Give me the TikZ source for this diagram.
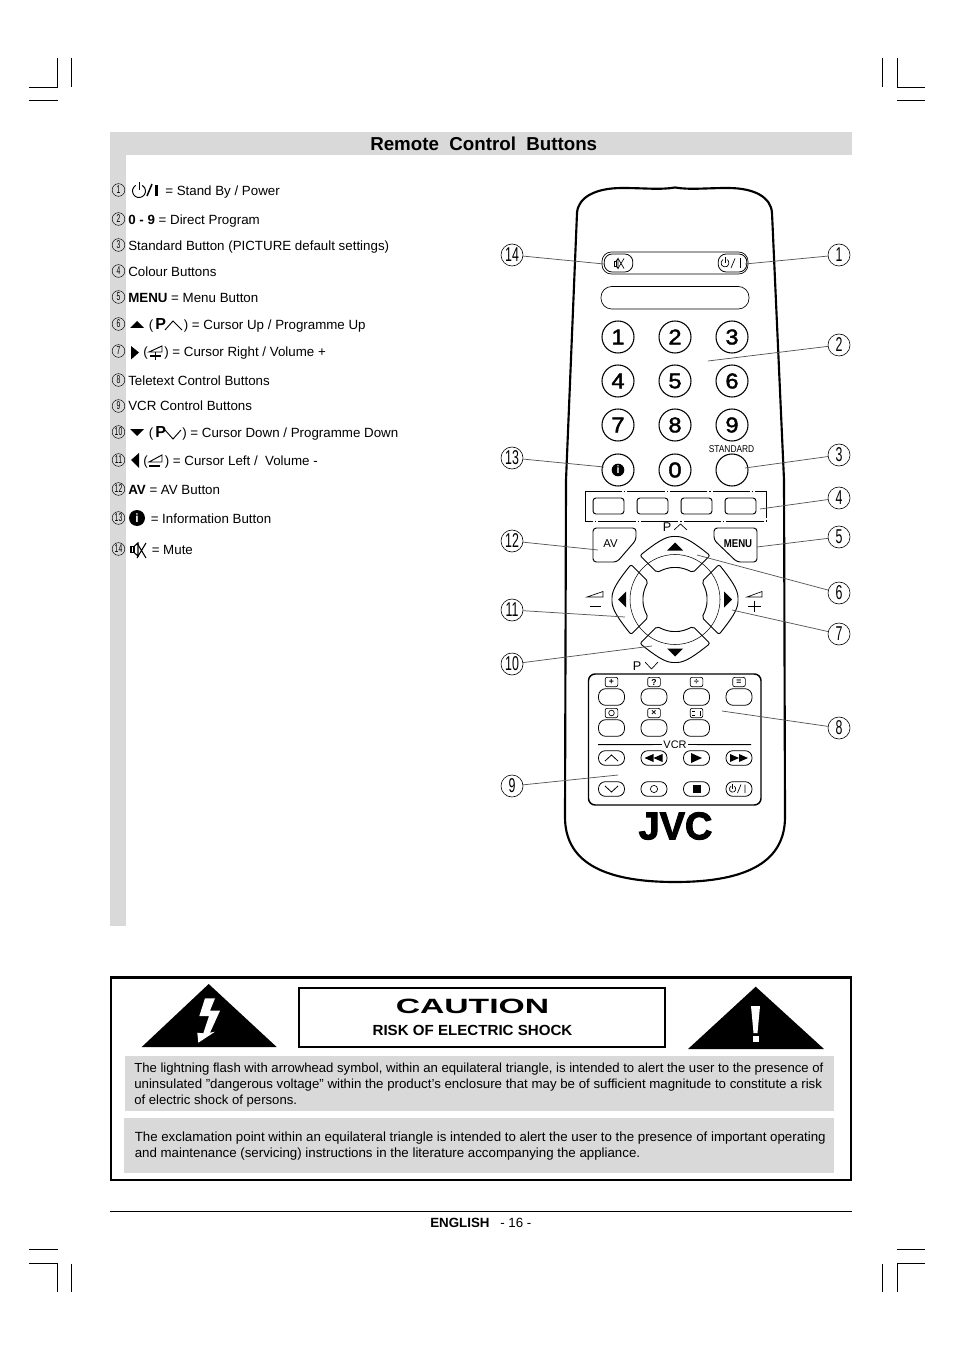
\documentclass[tikz,border=0pt]{standalone}
\usepackage{fontspec}
\usepackage{graphicx}
\setmainfont{Liberation Sans}
\newfontfamily\logofont[FakeBold=2.5]{Liberation Sans Bold}
\newfontfamily\keyfont[FakeBold=2]{Liberation Sans}
\definecolor{bandgray}{HTML}{D9D9D9}
\definecolor{leadgray}{HTML}{555555}

\begin{document}
\begin{tikzpicture}[x=0.75pt,y=-0.75pt]
	\tikzset{
		txt/.style={anchor=base west, inner sep=0, font=\fontsize{10}{12}\selectfont},
		warn/.style={anchor=north west, inner sep=0, align=left, font=\fontsize{9.85}{12}\selectfont},
		crop/.style={line width=0.75pt},
		callout/.style={draw, circle, minimum size=16.5pt, inner sep=0, line width=0.45pt, font=\fontsize{15}{15}\selectfont},
		mini/.style={draw, circle, minimum size=9.5pt, inner sep=0, line width=0.35pt, font=\fontsize{8.5}{8.5}\selectfont},
		leader/.style={draw=leadgray, line width=0.55pt},
		numkey/.style={draw, circle, minimum size=24pt, inner sep=0, line width=0.8pt, font=\fontsize{16}{16}\keyfont\selectfont},
		colkey/.style={draw, rounded corners=2.2pt, minimum width=23.2pt, minimum height=12pt, inner sep=0, line width=0.7pt},
		ttxkey/.style={draw, rounded corners=5.5pt, minimum width=19.5pt, minimum height=12.5pt, inner sep=0, line width=0.6pt},
		vcrkey/.style={draw, rounded corners=5.2pt, minimum width=19.5pt, minimum height=11pt, inner sep=0, line width=0.6pt},
		tag/.style={draw, rounded corners=1.5pt, minimum width=9.5pt, minimum height=7pt, inner sep=0, line width=0.5pt, font=\fontsize{6.5}{6.5}\bfseries\selectfont}
	}
	\useasboundingbox (0,0) rectangle (954,1351);

	% crop marks
	\foreach \x/\xa/\xb in {57.5/29/57.5,897/897/925} {
		\draw[crop] (\x,58) -- (\x,87.5);
		\draw[crop] (\xa,87.5) -- (\xb,87.5);
		\draw[crop] (\xa,101) -- (\xb,101);
		\draw[crop] (\x,1263.5) -- (\x,1292);
		\draw[crop] (\xa,1263.5) -- (\xb,1263.5);
		\draw[crop] (\xa,1249.5) -- (\xb,1249.5);
	}
	\foreach \x in {71.7,882.5} {
		\draw[crop] (\x,58) -- (\x,87);
		\draw[crop] (\x,1263.5) -- (\x,1292);
	}

	% grey bands and title
	\fill[bandgray] (110,132) rectangle (852,155);
	\fill[bandgray] (110,155) rectangle (126,926);
	\node[anchor=base west, inner sep=0, font=\fontsize{14.05}{16}\bfseries\selectfont] (title) at (370,151) {Remote\ \ Control\ \ Buttons};

	% list numbers
	\foreach \n/\y in {1/190,2/219,3/245,4/271,5/297,6/324,7/351,8/380,9/406,10/432,11/460,12/489,13/518,14/549}
		\node[mini] (m\n) at (118.5,\y) {\scalebox{.6}[1]{\n}};

	% list texts
	\node[txt] (t1) at (165,196) {= Stand By / Power};
	\node[txt] (t2) at (128,225) {\textbf{0 - 9} = Direct Program};
	\node[txt] (t3) at (128,251) {Standard Button (PICTURE default settings)};
	\node[txt] (t4) at (128,277) {Colour Buttons};
	\node[txt] (t5) at (128,303) {\textbf{MENU} = Menu Button};
	\node[txt] (t6a) at (148.5,330) {(\,\textbf{\large P}};
	\node[txt] (t6b) at (183.5,330) {) = Cursor Up / Programme Up};
	\node[txt] (t7a) at (143,357) {(};
	\node[txt] (t7b) at (164,357) {) = Cursor Right / Volume +};
	\node[txt] (t8) at (128,386) {Teletext Control Buttons};
	\node[txt] (t9) at (128,411) {VCR Control Buttons};
	\node[txt] (t10a) at (148.5,437) {(\,\textbf{\large P}};
	\node[txt] (t10b) at (182,437) {) = Cursor Down / Programme Down};
	\node[txt] (t11a) at (143,465) {(};
	\node[txt] (t11b) at (164.5,465) {) = Cursor Left /\ \ Volume -};
	\node[txt] (t12) at (128,494) {\textbf{AV} = AV Button};
	\node[txt] (t13) at (150.5,523) {= Information Button};
	\node[txt] (t14) at (151.5,554) {= Mute};

	% list symbols
	\draw[line width=0.7pt] (135.75,185.4) arc (240:-60:6.5);
	\draw[line width=0.7pt] (139,182.5) -- (139,190);
	\draw[line width=1.1pt] (147,196) -- (152,184);
	\draw[line width=1.9pt] (156.5,185) -- (156.5,196);
	\fill (130,328) -- (137,321) -- (144,328) -- cycle;
	\draw[line width=0.7pt] (165,330) -- (173,321) -- (182,330);
	\fill (131,346) -- (139,352.5) -- (131,359.5) -- cycle;
	\draw[line width=0.7pt] (149,352) -- (162,346) -- (162,352) -- cycle;
	\draw[line width=1pt] (150,356) -- (161,356) (155.5,352.5) -- (155.5,360);
	\fill (130,429) -- (144,429) -- (137,436) -- cycle;
	\draw[line width=0.7pt] (165,430) -- (173,439) -- (181,430);
	\fill (139,453) -- (131,460) -- (139,468) -- cycle;
	\draw[line width=0.7pt] (149,462) -- (162,455) -- (162,462) -- cycle;
	\draw[line width=1pt] (149,466) -- (160,466);
	\node[fill=black, circle, minimum size=12pt, inner sep=0, text=white, font=\fontsize{9}{9}\bfseries\selectfont] (info) at (137,518) {i};
	\draw[line width=0.8pt] (131,546.5) rectangle (134,552.5);
	\draw[line width=0.8pt] (134,546.5) -- (138,543) -- (138,556) -- (134,552.5);
	\draw[line width=0.8pt] (137,543) -- (146,558) (146,543) -- (137,558);

	% remote body
	\draw[line width=1.6pt] (566,480) -- (577,213)
		.. controls (578,197) and (596,188) .. (622,188)
		.. controls (645,188) and (660,190) .. (675,187.5)
		.. controls (690,190) and (705,188) .. (728,188)
		.. controls (754,188) and (771,197) .. (772,213)
		-- (784,480) -- (785,817)
		.. controls (785,860) and (750,882) .. (675,882)
		.. controls (600,882) and (565,860) .. (565,817) -- cycle;

	% top panel
	\draw[rounded corners=7pt, line width=0.5pt] (602,252) rectangle (748,274);
	\node[draw, rounded corners=6pt, minimum width=21.5pt, minimum height=13.5pt, inner sep=0, line width=0.6pt] (mute) at (618.5,263) {};
	\node[draw, rounded corners=6pt, minimum width=21.5pt, minimum height=13.5pt, inner sep=0, line width=0.6pt] (power) at (732.5,263) {};
	\draw[line width=0.5pt] (614,261) rectangle (616,266);
	\draw[line width=0.5pt] (616,261) -- (618,258.5) -- (618,268.5) -- (616,266);
	\draw[line width=0.5pt] (618,258.5) -- (624,268.5) (624,258.5) -- (618,268.5);
	\draw[line width=0.5pt] (723,259.5) arc (240:-60:4);
	\draw[line width=0.5pt] (725,257.5) -- (725,263);
	\draw[line width=0.5pt] (731,268) -- (735,258.5);
	\draw[line width=0.5pt] (740,258.5) -- (740,268);
	\draw[rounded corners=8pt, line width=0.5pt] (601,286.5) rectangle (749,309);

	% number keys
	\foreach \n/\x/\y in {1/618/337,2/675/337,3/732/337,4/618/381,5/675/381,6/732/381,7/618/425,8/675/425,9/732/425,0/675/470}
		\node[numkey] (k\n) at (\x,\y) {\scalebox{1.1}[1]{\n}};
	\node[numkey] (kinfo) at (618,470) {};
	\node[fill=black, circle, minimum size=9.5pt, inner sep=0, text=white, font=\fontsize{8}{8}\bfseries\selectfont] (kinfoi) at (618,470) {i};
	\node[numkey] (kstd) at (732,470) {};
	\node[inner sep=0, font=\fontsize{7.4}{8}\selectfont] (lstd) at (731.5,449) {\scalebox{.85}[1]{STANDARD}};

	% colour keys
	\draw[dash pattern=on 28pt off 1.5pt on 1pt off 1.5pt, line width=0.5pt] (585,491.5) rectangle (766,521);
	\foreach \n/\x in {1/608.5,2/652.5,3/696.5,4/740.5}
		\node[colkey] (c\n) at (\x,506) {};

	% AV and MENU
	\draw[rounded corners=2.5pt, line width=0.7pt] (593,528) -- (636,528) -- (636,540) -- (617,562) -- (593,562) -- cycle;
	\draw[rounded corners=2.5pt, line width=0.7pt] (757,528) -- (714,528) -- (714,540) -- (737,562) -- (757,562) -- cycle;
	\node[inner sep=0, font=\fontsize{8.5}{9}\selectfont] (lav) at (610.5,544) {AV};
	\node[inner sep=0, font=\fontsize{8.5}{9}\bfseries\selectfont] (lmenu) at (738,544) {\scalebox{.85}[1]{MENU}};

	% cursor ring
	\node[draw, circle, minimum size=67.5pt, inner sep=0, line width=0.4pt] (ring) at (675,599.5) {};
	\foreach \a in {0,90,180,270} {
		\begin{scope}[shift={(675,599.5)}, rotate=\a]
			\draw[rounded corners=1.5pt, line width=0.7pt]
				(-35,-44) .. controls (-20,-56) and (-10,-63) .. (0,-63)
				.. controls (10,-63) and (20,-56) .. (35,-44)
				-- (18,-27) .. controls (10,-31) and (5,-32) .. (0,-32)
				.. controls (-5,-32) and (-10,-31) .. (-18,-27) -- cycle;
			\fill (-8,-49) -- (8,-49) -- (0,-57) -- cycle;
		\end{scope}
	}
	\node[inner sep=0, font=\fontsize{9.5}{10}\selectfont] (pup) at (667,527) {P};
	\draw[line width=0.5pt] (674,530) -- (680.5,524) -- (687,530);
	\node[inner sep=0, font=\fontsize{9.5}{10}\selectfont] (pdn) at (637,666) {P};
	\draw[line width=0.5pt] (645,662) -- (651.5,669) -- (658,662);
	\draw[line width=0.5pt] (587,597) -- (603,591.5) -- (603,597) -- cycle;
	\draw[line width=0.7pt] (590,606) -- (601,606);
	\draw[line width=0.5pt] (747,597) -- (762,591.5) -- (762,597) -- cycle;
	\draw[line width=0.7pt] (748,606.5) -- (761,606.5) (754.5,601) -- (754.5,612);

	% teletext panel
	\draw[rounded corners=5pt, line width=1.1pt] (588.5,674) rectangle (761,805);
	\foreach \n/\x/\y in {a/611.5/697,b/654/697,c/696.5/697,d/739/697,e/611.5/728,f/654/728,g/696.5/728}
		\node[ttxkey] (tk\n) at (\x,\y) {};
	\foreach \n/\x/\y/\g in {a/611.5/682/+,b/654/682/?,c/696.5/682/÷,d/739/682/=,f/654/713/×}
		\node[tag] (tg\n) at (\x,\y) {\g};
	\node[tag] (tge) at (611.5,713) {};
	\draw[line width=0.5pt] (611.5,713) circle (2.8);
	\node[tag] (tgg) at (696.5,713) {};
	\draw[line width=0.6pt] (692,711) -- (695,711) (692,715) -- (695,715) (700,710.5) -- (700,715.5);

	% VCR keys
	\node[inner sep=1pt, font=\fontsize{8.2}{9}\selectfont] (lvcr) at (675,744.5) {VCR};
	\draw[line width=0.7pt] (598,744.7) -- (lvcr.west);
	\draw[line width=0.7pt] (lvcr.east) -- (751,744.7);
	\foreach \n/\x/\y in {a/611.5/758,b/654/758,c/696.5/758,d/739/758,e/611.5/789,f/654/789,g/696.5/789,h/739/789}
		\node[vcrkey] (vk\n) at (\x,\y) {};
	\draw[line width=0.6pt] (605,761) -- (611.5,755) -- (618,761);
	\draw[line width=0.6pt] (605,786) -- (611.5,792) -- (618,786);
	\fill (644.5,758) -- (653.5,754) -- (653.5,762) -- cycle;
	\fill (653.5,758) -- (662.5,754) -- (662.5,762) -- cycle;
	\fill (691,753) -- (702,758) -- (691,763) -- cycle;
	\fill (730,754) -- (739,758) -- (730,762) -- cycle;
	\fill (739,754) -- (748,758) -- (739,762) -- cycle;
	\draw[line width=0.5pt] (654,789) circle (3.6);
	\fill (692.5,785) rectangle (700.5,793);
	\draw[line width=0.5pt] (731,786.2) arc (240:-60:3.2);
	\draw[line width=0.5pt] (732.6,784) -- (732.6,788.5);
	\draw[line width=0.5pt] (737.5,793) -- (741,784.5) (745,784.5) -- (745,793);

	% logo
	\node[inner sep=0, font=\fontsize{29}{29}\logofont\selectfont] (logo) at (675.5,826) {\scalebox{.98}[1]{JVC}};

	% callouts
	\foreach \n/\x/\y/\ex/\ey in {14/512/255/604/264,13/512/458/604/467,12/512/541/598/550,11/512/610/625/617,10/512/664/652/646,9/512/786/618/775,1/839/255/745/264,2/839/345/708/361,3/839/455/745/468,4/839/498/760/509,5/839/537/757/547,6/839/593/697/555,7/839/634/732/610,8/839/728/722/711} {
		\node[callout] (n\n) at (\x,\y) {\scalebox{.62}[1]{\n}};
		\coordinate (e\n) at (\ex,\ey);
		\draw[leader] (n\n) -- (e\n);
	}

	% caution box
	\draw[line width=2.2pt] (111,977.5) rectangle (851,1180);
	\draw[line width=1.2pt] (299,988) rectangle (665,1047);
	\node[inner sep=0, font=\fontsize{15.5}{16}\bfseries\selectfont] (caut) at (472.5,1006) {\scalebox{1.63}[1]{CAUTION}};
	\node[inner sep=0, font=\fontsize{11}{12}\bfseries\selectfont] (risk) at (472.5,1030) {\scalebox{1.03}[1]{RISK OF ELECTRIC SHOCK}};
	\fill (208.7,984) -- (276.7,1047) -- (141.7,1047) -- cycle;
	\fill[white] (205,998.3) -- (215,998.3) -- (210,1010.7) -- (220,1010.7) -- (210,1032.7) -- (215,1031.7) -- (198.3,1042.7) -- (197.3,1032.7) -- (203.3,1033.3) -- (209,1016) -- (199.3,1016) -- cycle;
	\fill (755.7,986.7) -- (824,1049) -- (688,1049) -- cycle;
	\fill[white] (751,1006) -- (760,1006) -- (757.5,1033) -- (753.5,1033) -- cycle;
	\fill[white] (752.5,1035.5) rectangle (758.5,1042);
	\fill[bandgray] (125,1056) rectangle (834,1111);
	\fill[bandgray] (124,1118) rectangle (834,1173);
	\node[warn] (w1) at (134,1063) {The lightning flash with arrowhead symbol, within an equilateral triangle, is intended to alert the user to the presence of\\\scalebox{1.0105}[1]{uninsulated "dangerous voltage" within the product's enclosure that may be of sufficient magnitude to constitute a risk}\\of electric shock of persons.};
	\node[warn, font=\fontsize{9.97}{12}\selectfont] (w2) at (134.5,1132) {The exclamation point within an equilateral triangle is intended to alert the user to the presence of important operating\\and maintenance (servicing) instructions in the literature accompanying the appliance.};

	% footer
	\draw[line width=0.75pt] (110,1211) -- (852,1211);
	\node[txt, font=\fontsize{10}{12}\bfseries\selectfont] (eng) at (430,1227) {ENGLISH};
	\node[txt] (pg) at (500,1227) {- 16 -};
\end{tikzpicture}
\end{document}
